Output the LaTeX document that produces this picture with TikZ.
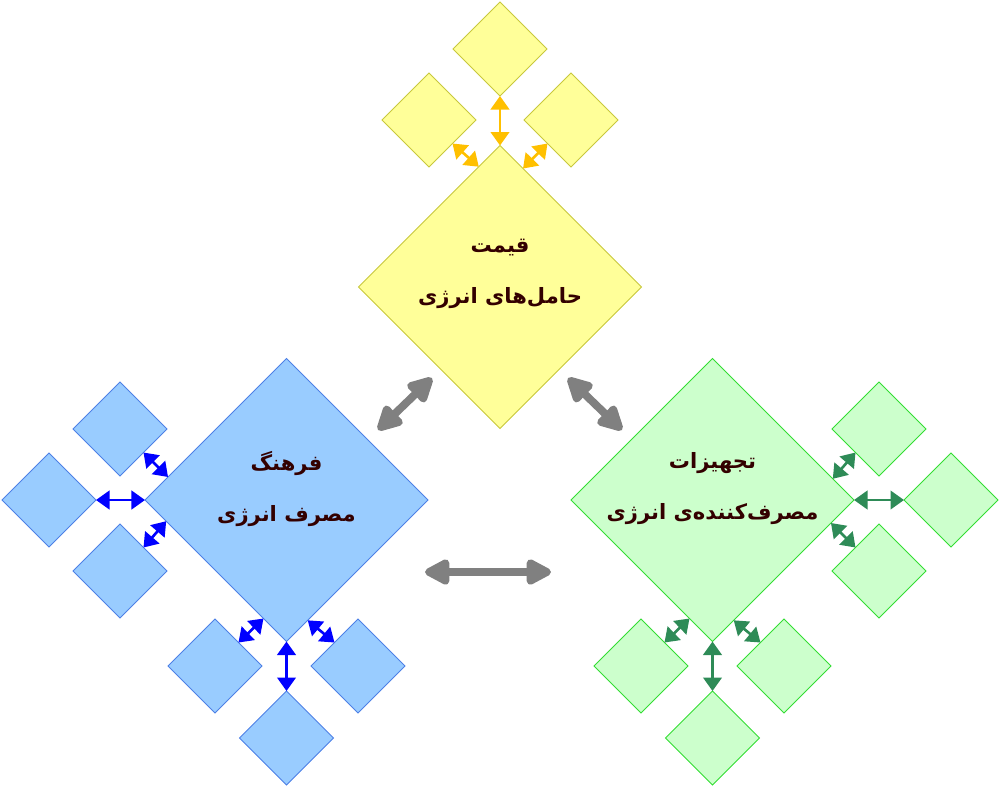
\documentclass[tikz,border=0pt]{standalone}
\usepackage{fontspec}
\newfontfamily\persianfont[Script=Arabic]{DejaVu Sans}
\TeXXeTstate=1
\usetikzlibrary{shapes.geometric,arrows.meta}
\definecolor{yfill}{HTML}{FFFF99}
\definecolor{yline}{HTML}{C8C83C}
\definecolor{yarrow}{HTML}{FFC000}
\definecolor{bfill}{HTML}{99CCFF}
\definecolor{bline}{HTML}{4D80E6}
\definecolor{barrow}{HTML}{0000FF}
\definecolor{gfill}{HTML}{CCFFCC}
\definecolor{gline}{HTML}{33DD33}
\definecolor{garrow}{HTML}{2E8B57}
\definecolor{inktext}{HTML}{330000}
\begin{document}
\begin{tikzpicture}[x=0.2mm,y=-0.2mm,
    bigbox/.style={diamond,inner sep=0pt,outer sep=0pt,minimum width=56.6mm,minimum height=56.6mm,line width=0.5pt},
    smallbox/.style={diamond,inner sep=0pt,outer sep=0pt,minimum width=18.8mm,minimum height=18.8mm,line width=0.5pt},
    link/.style={{Triangle[length=2.7mm,width=3.7mm]}-{Triangle[length=2.7mm,width=3.7mm]},line width=1.5pt},
    bigarrow/.style={{Triangle[length=5.8mm,width=5.6mm,round]}-{Triangle[length=5.8mm,width=5.6mm,round]},line width=4.5pt,draw=gray},
    caption/.style={align=center,text=inktext,font=\persianfont\bfseries\fontsize{12pt}{29pt}\selectfont}]
    \useasboundingbox (0,0) rectangle (1000,787);

    % price
    \node[bigbox,fill=yfill,draw=yline] (price) at (500,287) {};
    \node[smallbox,fill=yfill,draw=yline] (price_1) at (429,120) {};
    \node[smallbox,fill=yfill,draw=yline] (price_2) at (500,49) {};
    \node[smallbox,fill=yfill,draw=yline] (price_3) at (571,120) {};
    \draw[link,draw=yarrow] (price_1.south east) -- (price.100.85);
    \draw[link,draw=yarrow] (price_2.south) -- (price.north);
    \draw[link,draw=yarrow] (price_3.south west) -- (price.79.15);

    % culture
    \node[bigbox,fill=bfill,draw=bline] (culture) at (286.5,500) {};
    \node[smallbox,fill=bfill,draw=bline] (culture_1) at (120,429) {};
    \node[smallbox,fill=bfill,draw=bline] (culture_2) at (49,500) {};
    \node[smallbox,fill=bfill,draw=bline] (culture_3) at (120,571) {};
    \node[smallbox,fill=bfill,draw=bline] (culture_4) at (215,666) {};
    \node[smallbox,fill=bfill,draw=bline] (culture_5) at (286.5,738) {};
    \node[smallbox,fill=bfill,draw=bline] (culture_6) at (358,666) {};
    \draw[link,draw=barrow] (culture_1.south east) -- (culture.169.15);
    \draw[link,draw=barrow] (culture_2.east) -- (culture.west);
    \draw[link,draw=barrow] (culture_3.north east) -- (culture.190.85);
    \draw[link,draw=barrow] (culture_4.north east) -- (culture.259.15);
    \draw[link,draw=barrow] (culture_5.north) -- (culture.south);
    \draw[link,draw=barrow] (culture_6.north west) -- (culture.280.85);

    % equipment
    \node[bigbox,fill=gfill,draw=gline] (equip) at (712.5,500) {};
    \node[smallbox,fill=gfill,draw=gline] (equip_1) at (879,429) {};
    \node[smallbox,fill=gfill,draw=gline] (equip_2) at (951,500) {};
    \node[smallbox,fill=gfill,draw=gline] (equip_3) at (879,571) {};
    \node[smallbox,fill=gfill,draw=gline] (equip_4) at (641,666) {};
    \node[smallbox,fill=gfill,draw=gline] (equip_5) at (712.5,738) {};
    \node[smallbox,fill=gfill,draw=gline] (equip_6) at (784,666) {};
    \draw[link,draw=garrow] (equip_1.south west) -- (equip.10.85);
    \draw[link,draw=garrow] (equip_2.west) -- (equip.east);
    \draw[link,draw=garrow] (equip_3.north west) -- (equip.349.15);
    \draw[link,draw=garrow] (equip_4.north east) -- (equip.259.15);
    \draw[link,draw=garrow] (equip_5.north) -- (equip.south);
    \draw[link,draw=garrow] (equip_6.north west) -- (equip.280.85);

    % labels
    \node[caption] (label_1) at (500,274) {\beginR قیمت\endR\\\beginR حامل^^^^200cهای انرژی\endR};
    \node[caption] (label_2) at (286.5,489) {\beginR فرهنگ\endR\\\beginR مصرف انرژی\endR};
    \node[caption] (label_3) at (712.5,489) {\beginR تجهیزات\endR\\\beginR مصرف^^^^200cکننده^^^^200cی انرژی\endR};

    % links between the three
    \coordinate (g_1) at (432,378);
    \coordinate (g_2) at (378,430);
    \coordinate (g_3) at (568,378);
    \coordinate (g_4) at (622,430);
    \coordinate (g_5) at (425,572);
    \coordinate (g_6) at (551,572);
    \draw[bigarrow] (g_1) -- (g_2);
    \draw[bigarrow] (g_3) -- (g_4);
    \draw[bigarrow] (g_5) -- (g_6);
\end{tikzpicture}
\end{document}
